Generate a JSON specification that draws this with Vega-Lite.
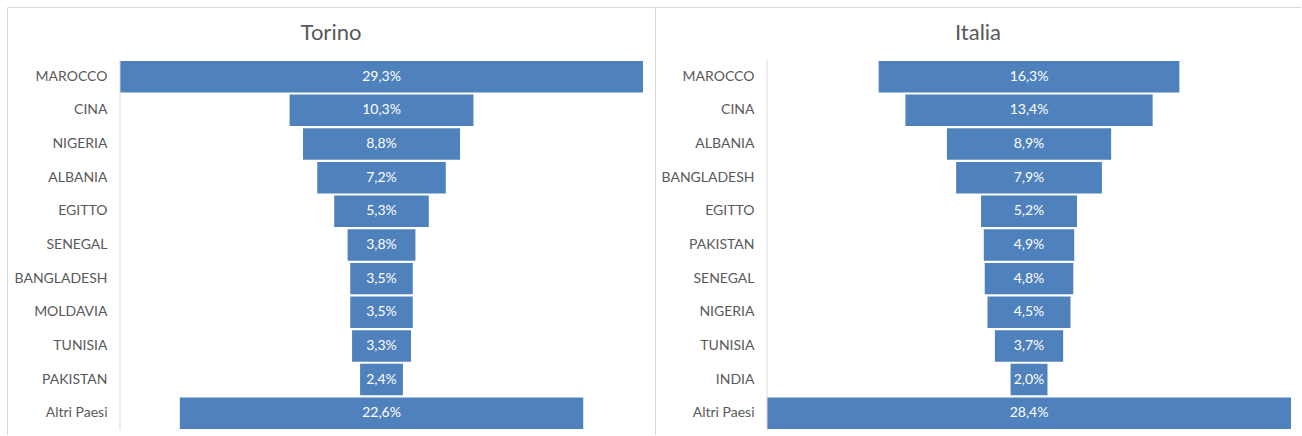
{
  "$schema": "https://vega.github.io/schema/vega-lite/v6.json",
  "padding": {"left": 7, "top": 7, "right": 0, "bottom": 0},
  "background": "white",
  "spacing": 0,
  "bounds": "flush",
  "datasets": {
    "torino": [
      {"country": "MAROCCO", "value": 0.293},
      {"country": "CINA", "value": 0.103},
      {"country": "NIGERIA", "value": 0.088},
      {"country": "ALBANIA", "value": 0.072},
      {"country": "EGITTO", "value": 0.053},
      {"country": "SENEGAL", "value": 0.038},
      {"country": "BANGLADESH", "value": 0.035},
      {"country": "MOLDAVIA", "value": 0.035},
      {"country": "TUNISIA", "value": 0.033},
      {"country": "PAKISTAN", "value": 0.024},
      {"country": "Altri Paesi", "value": 0.226}
    ],
    "italia": [
      {"country": "MAROCCO", "value": 0.163},
      {"country": "CINA", "value": 0.134},
      {"country": "ALBANIA", "value": 0.089},
      {"country": "BANGLADESH", "value": 0.079},
      {"country": "EGITTO", "value": 0.052},
      {"country": "PAKISTAN", "value": 0.049},
      {"country": "SENEGAL", "value": 0.048},
      {"country": "NIGERIA", "value": 0.045},
      {"country": "TUNISIA", "value": 0.037},
      {"country": "INDIA", "value": 0.020},
      {"country": "Altri Paesi", "value": 0.284}
    ]
  },
  "hconcat": [
    {
      "width": 648,
      "height": 428,
      "title": {"text": "Torino", "frame": "group", "anchor": "middle", "offset": -55, "baseline": "alphabetic", "fontSize": 22, "font": "Lato", "fontWeight": "normal", "color": "#595959"},
      "data": {"name": "torino"},
      "encoding": {
        "y": {
          "field": "country", "type": "nominal", "sort": null,
          "scale": {"domain": ["MAROCCO", "CINA", "NIGERIA", "ALBANIA", "EGITTO", "SENEGAL", "BANGLADESH", "MOLDAVIA", "TUNISIA", "PAKISTAN", "Altri Paesi"], "paddingInner": 0.065, "paddingOuter": 0.89, "align": 0.9},
          "axis": {"orient": "left", "title": null, "ticks": false, "domain": true, "domainColor": "#d9d9d9", "labelPadding": -100, "labelFontSize": 14, "labelColor": "#595959", "labelFont": "Lato"}
        }
      },
      "layer": [
        {
          "mark": {"type": "bar", "color": "#4F81BD"},
          "encoding": {
            "x": {"field": "value", "type": "quantitative", "stack": "center", "scale": {"domain": [-0.0633, 0.2997], "nice": false, "zero": false}, "axis": {"orient": "top", "labels": false, "ticks": false, "grid": false, "title": null, "domain": true, "domainColor": "#d9d9d9"}}
          }
        },
        {
          "mark": {"type": "text", "color": "white", "fontSize": 14, "font": "Lato"},
          "encoding": {
            "x": {"datum": 0.1465, "type": "quantitative", "scale": {"domain": [-0.0633, 0.2997], "nice": false, "zero": false}, "axis": {"orient": "top", "labels": false, "ticks": false, "grid": false, "title": null, "domain": true, "domainColor": "#d9d9d9"}},
            "text": {"field": "value", "type": "quantitative", "format": ".1%"}
          }
        },
        {
          "data": {"values": [{}]},
          "mark": {"type": "rule", "color": "#d9d9d9", "yOffset": -17, "y2Offset": 17},
          "encoding": {
            "x": {"datum": 0, "type": "quantitative", "scale": {"domain": [-0.0633, 0.2997], "nice": false, "zero": false}, "axis": {"orient": "top", "labels": false, "ticks": false, "grid": false, "title": null, "domain": true, "domainColor": "#d9d9d9"}},
            "y": {"datum": "MAROCCO", "type": "nominal"},
            "y2": {"datum": "Altri Paesi"}
          }
        }
      ]
    },
    {
      "width": 646,
      "height": 428,
      "title": {"text": "Italia", "frame": "group", "anchor": "middle", "offset": -55, "baseline": "alphabetic", "fontSize": 22, "font": "Lato", "fontWeight": "normal", "color": "#595959"},
      "data": {"name": "italia"},
      "encoding": {
        "y": {
          "field": "country", "type": "nominal", "sort": null,
          "scale": {"domain": ["MAROCCO", "CINA", "ALBANIA", "BANGLADESH", "EGITTO", "PAKISTAN", "SENEGAL", "NIGERIA", "TUNISIA", "INDIA", "Altri Paesi"], "paddingInner": 0.065, "paddingOuter": 0.89, "align": 0.9},
          "axis": {"orient": "left", "title": null, "ticks": false, "domain": true, "domainColor": "#d9d9d9", "labelPadding": -99, "labelFontSize": 14, "labelColor": "#595959", "labelFont": "Lato"}
        }
      },
      "layer": [
        {
          "mark": {"type": "bar", "color": "#4F81BD"},
          "encoding": {
            "x": {"field": "value", "type": "quantitative", "stack": "center", "scale": {"domain": [-0.0607, 0.2894], "nice": false, "zero": false}, "axis": {"orient": "top", "labels": false, "ticks": false, "grid": false, "title": null, "domain": true, "domainColor": "#d9d9d9"}}
          }
        },
        {
          "mark": {"type": "text", "color": "white", "fontSize": 14, "font": "Lato"},
          "encoding": {
            "x": {"datum": 0.142, "type": "quantitative", "scale": {"domain": [-0.0607, 0.2894], "nice": false, "zero": false}, "axis": {"orient": "top", "labels": false, "ticks": false, "grid": false, "title": null, "domain": true, "domainColor": "#d9d9d9"}},
            "text": {"field": "value", "type": "quantitative", "format": ".1%"}
          }
        },
        {
          "data": {"values": [{}]},
          "mark": {"type": "rule", "color": "#d9d9d9", "yOffset": -17, "y2Offset": 17},
          "encoding": {
            "x": {"datum": 0, "type": "quantitative", "scale": {"domain": [-0.0607, 0.2894], "nice": false, "zero": false}, "axis": {"orient": "top", "labels": false, "ticks": false, "grid": false, "title": null, "domain": true, "domainColor": "#d9d9d9"}},
            "y": {"datum": "MAROCCO", "type": "nominal"},
            "y2": {"datum": "Altri Paesi"}
          }
        }
      ]
    }
  ],
  "config": {
    "locale": {"number": {"decimal": ",", "thousands": ".", "grouping": [3], "currency": ["", " €"]}},
    "view": {"stroke": null},
    "axis": {"grid": false},
    "font": "Lato"
  }
}
